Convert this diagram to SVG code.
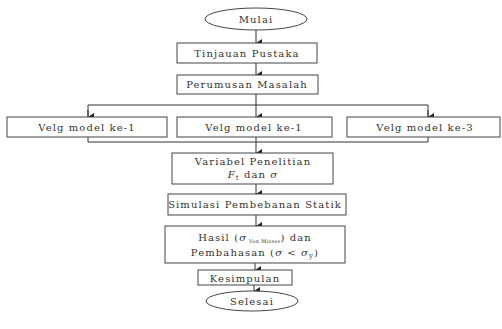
<svg xmlns="http://www.w3.org/2000/svg" width="502" height="329" viewBox="0 0 502 329">
<defs>
<marker id="ah" markerWidth="8" markerHeight="8" refX="4" refY="6" orient="auto" markerUnits="userSpaceOnUse">
<path d="M0,0 L8,0 L4,6 Z" fill="#222"/>
</marker>
<style>
.box{fill:#fff;stroke:#444;stroke-width:1}
.t{font-family:"DejaVu Serif","Liberation Serif",serif;font-size:10px;fill:#333;text-anchor:middle;letter-spacing:1.1px}
.c{stroke:#333;stroke-width:1;fill:none}
</style>
</defs>
<rect width="502" height="329" fill="#fff"/>
<g id="connectors">
<line class="c" x1="256" y1="30" x2="256" y2="43" marker-end="url(#ah)"/>
<line class="c" x1="256" y1="63" x2="256" y2="75" marker-end="url(#ah)"/>
<line class="c" x1="256" y1="94" x2="256" y2="105"/>
<polyline class="c" points="88,117 88,105 428,105 428,117"/>
<line class="c" x1="88" y1="110" x2="88" y2="117" marker-end="url(#ah)"/>
<line class="c" x1="256" y1="105" x2="256" y2="117" marker-end="url(#ah)"/>
<line class="c" x1="428" y1="110" x2="428" y2="117" marker-end="url(#ah)"/>
<polyline class="c" points="88,137 88,142 428,142 428,137"/>
<line class="c" x1="256" y1="137" x2="256" y2="153" marker-end="url(#ah)"/>
<line class="c" x1="256" y1="184" x2="256" y2="194" marker-end="url(#ah)"/>
<line class="c" x1="256" y1="215" x2="256" y2="226" marker-end="url(#ah)"/>
<line class="c" x1="255" y1="263" x2="255" y2="270" marker-end="url(#ah)"/>
<line class="c" x1="254" y1="285" x2="254" y2="291" marker-end="url(#ah)"/>
</g>
<g id="mulai"><ellipse class="box" cx="256" cy="19" rx="51" ry="11"/><text class="t" x="256" y="23">Mulai</text></g>
<g id="tinjauan"><rect class="box" x="177" y="43" width="140" height="20"/><text class="t" x="247" y="57">Tinjauan Pustaka</text></g>
<g id="perumusan"><rect class="box" x="177" y="75" width="141" height="19"/><text class="t" x="247" y="88">Perumusan Masalah</text></g>
<g id="velg1"><rect class="box" x="7" y="117" width="160" height="20"/><text class="t" x="87" y="131">Velg model ke-1</text></g>
<g id="velg2"><rect class="box" x="177" y="117" width="155" height="20"/><text class="t" x="254" y="131">Velg model ke-1</text></g>
<g id="velg3"><rect class="box" x="347" y="117" width="153" height="20"/><text class="t" x="425" y="131">Velg model ke-3</text></g>
<g id="variabel"><rect class="box" x="172" y="153" width="161" height="31"/><text class="t" x="253" y="165">Variabel Penelitian</text><text class="t" x="253" y="178"><tspan font-style="italic">F</tspan><tspan font-size="7" dy="2">t</tspan><tspan dy="-2"> dan </tspan><tspan font-style="italic">σ</tspan></text></g>
<g id="simulasi"><rect class="box" x="168" y="194" width="178" height="21"/><text class="t" x="255" y="208">Simulasi Pembebanan Statik</text></g>
<g id="hasil"><rect class="box" x="165" y="226" width="180" height="37"/><text class="t" x="255" y="241">Hasil (<tspan font-style="italic">σ</tspan><tspan font-size="5" dy="2" letter-spacing="0.3"> Von Misses</tspan><tspan dy="-2">)  dan</tspan></text><text class="t" x="255" y="256">Pembahasan (<tspan font-style="italic">σ</tspan> &lt; <tspan font-style="italic">σ</tspan><tspan font-size="7" dy="2">y</tspan><tspan dy="-2">)</tspan></text></g>
<g id="kesimpulan"><rect class="box" x="198" y="270" width="94" height="15"/><text class="t" x="245" y="282">Kesimpulan</text></g>
<g id="selesai"><ellipse class="box" cx="252" cy="301" rx="46" ry="10"/><text class="t" x="252" y="305">Selesai</text></g>
</svg>
